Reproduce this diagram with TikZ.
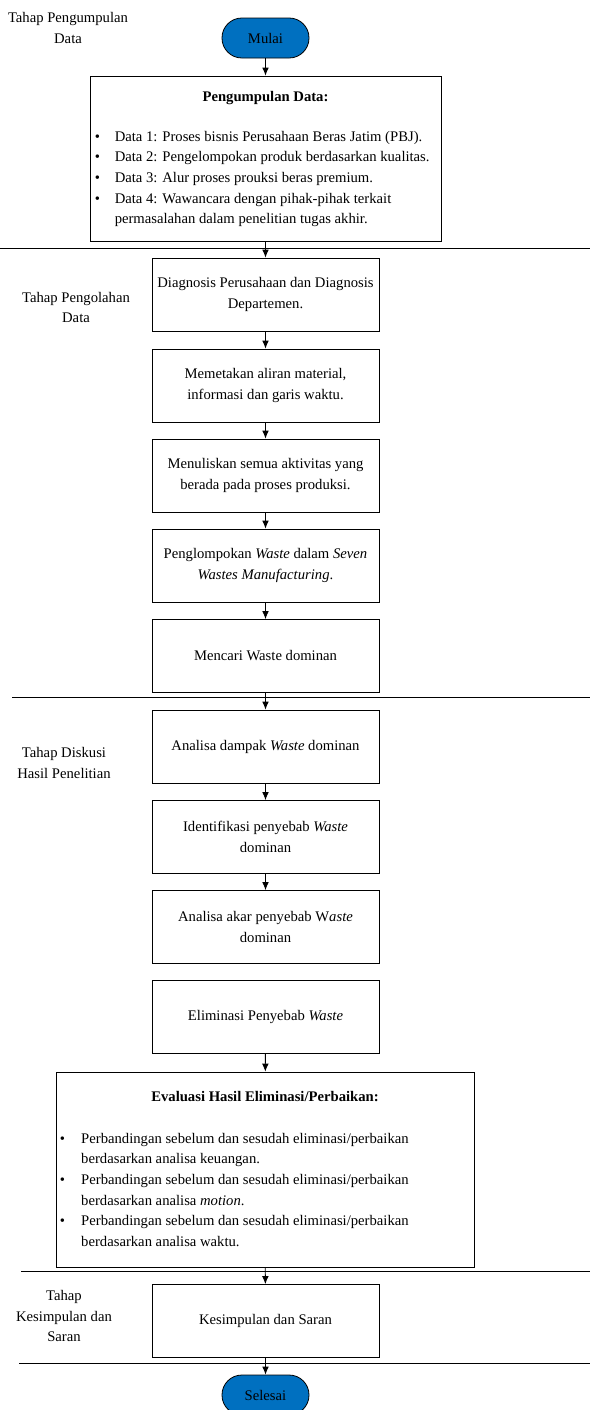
\documentclass[tikz,border=0pt]{standalone}
\usepackage{fontspec}
\usetikzlibrary{arrows.meta}
\setmainfont{Liberation Serif}
\definecolor{birumulai}{RGB}{0,112,192}
\tikzset{
  kotak/.style={draw, line width=0.6pt, minimum width=170.25pt, minimum height=54.75pt, align=center, inner sep=2pt},
  terminal/.style={draw, line width=0.6pt, fill=birumulai, rounded corners=14.9pt, minimum width=65.25pt, minimum height=30pt, inner sep=0pt},
  tahap/.style={align=center, inner sep=0pt},
  panah/.style={line width=0.6pt, -{Latex[length=6pt,width=5pt]}},
  batas/.style={line width=0.6pt}
}
\begin{document}
\begin{tikzpicture}[x=0.75pt,y=-0.75pt,font=\fontsize{11}{15.5}\selectfont]
  \useasboundingbox (0,0) rectangle (590,1410);
  % batas tahap
  \draw[batas] (0,248.5) -- (590,248.5);
  \draw[batas] (12,697) -- (590,697);
  \draw[batas] (21,1271) -- (590,1271);
  \draw[batas] (19,1363) -- (590,1363);
  % label tahap
  \node[tahap] (t1) at (68,28) {Tahap Pengumpulan\\Data};
  \node[tahap] (t2) at (76,307.5) {Tahap Pengolahan\\Data};
  \node[tahap] (t3) at (64,763) {Tahap Diskusi\\Hasil Penelitian};
  \node[tahap] (t4) at (64,1316) {Tahap\\Kesimpulan dan\\Saran};
  % alur
  \node[terminal] (mulai) at (265.5,38) {Mulai};
  \node[kotak, minimum width=263.25pt, minimum height=123.75pt] (kumpul) at (265.5,158.5) {};
  \node[inner sep=0pt] (kumpul-judul) at (265.5,98) {\textbf{Pengumpulan Data:}};
  \node[inner sep=0pt, anchor=north west] (kumpul-isi) at (94.5,126.5) {%
    \setlength{\tabcolsep}{0pt}%
    \begin{tabular}{p{15pt}l}
      \textbullet & Data 1: Proses bisnis Perusahaan Beras Jatim (PBJ).\\
      \textbullet & Data 2: Pengelompokan produk berdasarkan kualitas.\\
      \textbullet & Data 3: Alur proses prouksi beras premium.\\
      \textbullet & Data 4: Wawancara dengan pihak-pihak terkait\\
                  & permasalahan dalam penelitian tugas akhir.
    \end{tabular}};
  \node[kotak] (diagnosis) at (265.5,294.5) {Diagnosis Perusahaan dan Diagnosis\\Departemen.};
  \node[kotak] (petakan) at (265.5,385.5) {Memetakan aliran material,\\informasi dan garis waktu.};
  \node[kotak] (aktivitas) at (265.5,475.5) {Menuliskan semua aktivitas yang\\berada pada proses produksi.};
  \node[kotak] (kelompok) at (265.5,565.5) {Penglompokan \textit{Waste} dalam \textit{Seven}\\\textit{Wastes Manufacturing}.};
  \node[kotak] (dominan) at (265.5,656) {Mencari Waste dominan};
  \node[kotak] (dampak) at (265.5,746.5) {Analisa dampak \textit{Waste} dominan};
  \node[kotak] (penyebab) at (265.5,837) {Identifikasi penyebab \textit{Waste}\\dominan};
  \node[kotak] (akar) at (265.5,927) {Analisa akar penyebab W\textit{aste}\\dominan};
  \node[kotak] (eliminasi) at (265.5,1017) {Eliminasi Penyebab \textit{Waste}};
  \node[kotak, minimum width=313.5pt, minimum height=146.25pt] (evaluasi) at (265,1169.5) {};
  \node[inner sep=0pt] (evaluasi-judul) at (265,1097) {\textbf{Evaluasi Hasil Eliminasi/Perbaikan:}};
  \node[inner sep=0pt, anchor=north west] (evaluasi-isi) at (59.5,1128.5) {%
    \setlength{\tabcolsep}{0pt}%
    \begin{tabular}{p{16.1pt}l}
      \textbullet & Perbandingan sebelum dan sesudah eliminasi/perbaikan\\
                  & berdasarkan analisa keuangan.\\
      \textbullet & Perbandingan sebelum dan sesudah eliminasi/perbaikan\\
                  & berdasarkan analisa \textit{motion}.\\
      \textbullet & Perbandingan sebelum dan sesudah eliminasi/perbaikan\\
                  & berdasarkan analisa waktu.
    \end{tabular}};
  \node[kotak] (simpulan) at (265.5,1321) {Kesimpulan dan Saran};
  \node[terminal] (selesai) at (265.5,1395) {Selesai};
  % panah
  \draw[panah] (mulai) -- (kumpul);
  \draw[panah] (kumpul) -- (diagnosis);
  \draw[panah] (diagnosis) -- (petakan);
  \draw[panah] (petakan) -- (aktivitas);
  \draw[panah] (aktivitas) -- (kelompok);
  \draw[panah] (kelompok) -- (dominan);
  \draw[panah] (dominan) -- (dampak);
  \draw[panah] (dampak) -- (penyebab);
  \draw[panah] (penyebab) -- (akar);
  \draw[panah] (eliminasi) -- (evaluasi);
  \draw[panah] (evaluasi) -- (simpulan);
  \draw[panah] (simpulan) -- (selesai);
\end{tikzpicture}
\end{document}
